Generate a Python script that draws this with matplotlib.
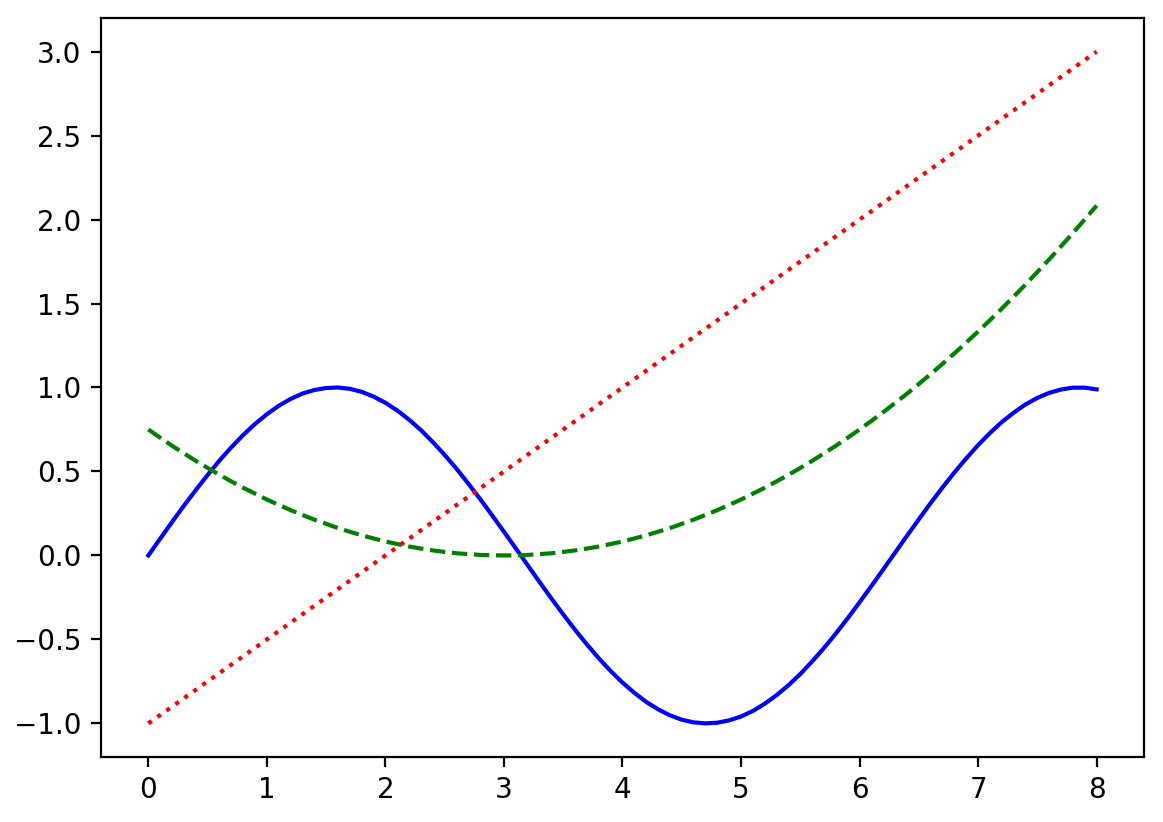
import matplotlib
matplotlib.use("Agg")
import matplotlib.pyplot as plt

# values, every 0.1 along x
x_vals = [0.0, 0.1, 0.2, 0.3, 0.4, 0.5, 0.6, 0.7, 0.8, 0.9,
          1.0, 1.1, 1.2, 1.3, 1.4, 1.5, 1.6, 1.7, 1.8, 1.9,
          2.0, 2.1, 2.2, 2.3, 2.4, 2.5, 2.6, 2.7, 2.8, 2.9,
          3.0, 3.1, 3.2, 3.3, 3.4, 3.5, 3.6, 3.7, 3.8, 3.9,
          4.0, 4.1, 4.2, 4.3, 4.4, 4.5, 4.6, 4.7, 4.8, 4.9,
          5.0, 5.1, 5.2, 5.3, 5.4, 5.5, 5.6, 5.7, 5.8, 5.9,
          6.0, 6.1, 6.2, 6.3, 6.4, 6.5, 6.6, 6.7, 6.8, 6.9,
          7.0, 7.1, 7.2, 7.3, 7.4, 7.5, 7.6, 7.7, 7.8, 7.9, 8.0]

blue_vals = [0.000, 0.100, 0.199, 0.296, 0.389, 0.479, 0.565, 0.644, 0.717, 0.783,
             0.841, 0.891, 0.932, 0.964, 0.985, 0.997, 1.000, 0.992, 0.974, 0.946,
             0.909, 0.863, 0.808, 0.746, 0.675, 0.598, 0.516, 0.427, 0.335, 0.239,
             0.141, 0.042, -0.058, -0.158, -0.256, -0.351, -0.443, -0.530, -0.612, -0.688,
             -0.757, -0.818, -0.872, -0.916, -0.952, -0.978, -0.994, -1.000, -0.996, -0.982,
             -0.959, -0.926, -0.883, -0.832, -0.773, -0.706, -0.631, -0.551, -0.465, -0.374,
             -0.279, -0.182, -0.083, 0.017, 0.117, 0.215, 0.312, 0.405, 0.494, 0.578,
             0.657, 0.729, 0.794, 0.850, 0.899, 0.938, 0.968, 0.988, 0.999, 0.999, 0.989]

green_vals = [0.750, 0.701, 0.653, 0.608, 0.563, 0.521, 0.480, 0.441, 0.403, 0.368,
              0.333, 0.301, 0.270, 0.241, 0.213, 0.188, 0.163, 0.141, 0.120, 0.101,
              0.083, 0.068, 0.053, 0.041, 0.030, 0.021, 0.013, 0.008, 0.003, 0.001,
              0.000, 0.001, 0.003, 0.008, 0.013, 0.021, 0.030, 0.041, 0.053, 0.068,
              0.083, 0.101, 0.120, 0.141, 0.163, 0.188, 0.213, 0.241, 0.270, 0.301,
              0.333, 0.368, 0.403, 0.441, 0.480, 0.521, 0.563, 0.608, 0.653, 0.701,
              0.750, 0.801, 0.853, 0.908, 0.963, 1.021, 1.080, 1.141, 1.203, 1.268,
              1.333, 1.401, 1.470, 1.541, 1.613, 1.688, 1.763, 1.841, 1.920, 2.001, 2.083]

# red dotted series is a straight line: ends
red_x = [0.0, 8.0]
red_vals = [-1.0, 3.0]

fig = plt.figure(figsize=(5.815, 4.11), dpi=200)
ax = fig.add_axes([0.0868, 0.0791, 0.8969, 0.8990])

ax.plot(x_vals, blue_vals, color='b', linestyle='-')
ax.plot(x_vals, green_vals, color='g', linestyle='--')
ax.plot(red_x, red_vals, color='r', linestyle=':')

fig.savefig("out.png", dpi=200)
